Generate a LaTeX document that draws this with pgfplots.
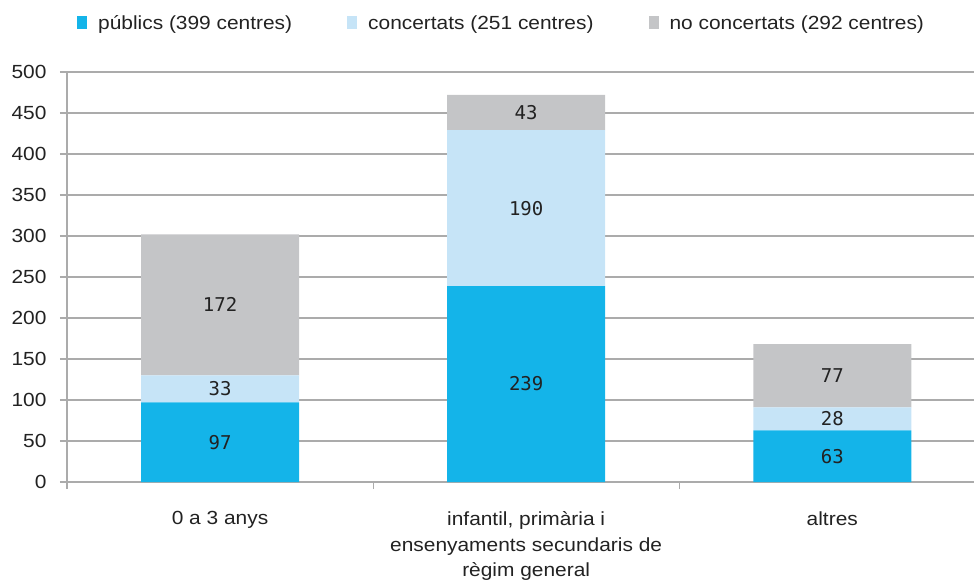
\documentclass[border=0pt]{standalone}
\usepackage{fontspec}
\setmainfont{Liberation Sans}[FakeStretch=1.1]
\newfontfamily\monofont{DejaVu Sans Mono}
\usepackage{pgfplots}
\pgfplotsset{compat=1.18}
\definecolor{cblue}{HTML}{14B4E9}
\definecolor{clight}{HTML}{C6E4F7}
\definecolor{cgray}{HTML}{C4C5C7}
\definecolor{cgrid}{HTML}{ABABAB}
\definecolor{ctext}{HTML}{222222}
\begin{document}
\begin{tikzpicture}
\begin{axis}[name=ax, scale only axis, width=907pt, height=410pt,
  ybar stacked, bar width=158pt,
  xmin=-0.5, xmax=2.463, ymin=0, ymax=500,
  ytick={0,50,...,500},
  xtick={-0.5,0.5,1.5}, xticklabels={},
  extra x ticks={0,1,2},
  extra x tick labels={0 a 3 anys, {infantil, primària i\\ensenyaments secundaris de\\règim general}, altres},
  extra x tick style={major tick length=0pt, grid=none},
  x tick label style={align=center, font=\fontsize{19}{25.5}\selectfont, text=ctext, yshift=-26pt},
  y tick label style={font=\fontsize{19}{23}\selectfont, text=ctext, xshift=-10pt},
  /pgf/number format/assume math mode=true,
  ymajorgrids, grid style={cgrid, line width=1.2pt},
  axis x line*=bottom, axis y line*=left,
  axis line style={cgrid, line width=1.2pt, -},
  tick style={cgrid, line width=1.2pt}, tick align=outside, major tick length=7pt,
  legend style={at={(0,1)}, anchor=west, xshift=7pt, yshift=49pt, draw=none, fill=none,
    font=\fontsize{19}{23}\selectfont, text=ctext, nodes={inner sep=0pt},
    /tikz/every odd column/.append style={column sep=11pt},
    /tikz/every even column/.append style={column sep=55pt}},
  legend columns=3, legend cell align=left,
  legend image code/.code={\fill[#1] (0pt,-6pt) rectangle (10pt,7pt);},
]
\addplot[fill=cblue, draw=none] coordinates {(0,97) (1,239) (2,63)};
\addlegendentry{públics (399 centres)}
\addplot[fill=clight, draw=none] coordinates {(0,33) (1,190) (2,28)};
\addlegendentry{concertats (251 centres)}
\addplot[fill=cgray, draw=none] coordinates {(0,172) (1,43) (2,77)};
\addlegendentry{no concertats (292 centres)}
\end{axis}
\begin{axis}[scale only axis, width=907pt, height=410pt,
  xmin=-0.5, xmax=2.463, ymin=0, ymax=500, hide axis,
  nodes near coords, point meta=explicit symbolic,
  every node near coord/.append style={anchor=center, font=\monofont\fontsize{19}{23}\selectfont, text=ctext}]
\addplot[draw=none, mark=none] coordinates {(0,48.5)[97] (0,113.5)[33] (0,216)[172]
  (1,119.5)[239] (1,334)[190] (1,450.5)[43]
  (2,31.5)[63] (2,77)[28] (2,129.5)[77]};
\end{axis}
\pgfresetboundingbox
\path ([xshift=-67pt,yshift=-99pt]ax.south west) rectangle ([yshift=72pt]ax.north east);
\end{tikzpicture}
\end{document}
